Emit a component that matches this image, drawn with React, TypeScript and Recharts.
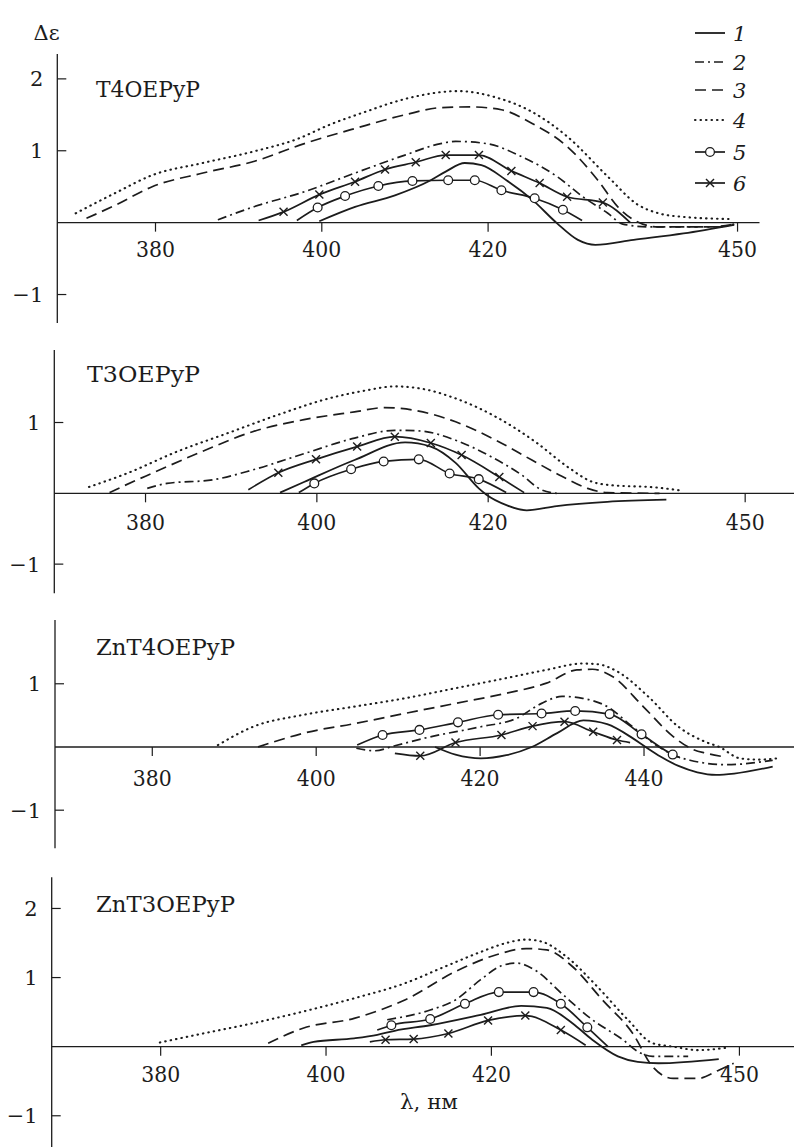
import React from 'react';
import { LineChart, Line, XAxis, YAxis, ReferenceLine, ReferenceDot } from 'recharts';

type Pair = [number, number];

// ---- Panel 1: T4OEPyP ----
const p1s1: Pair[] = [[399.7,0.02],[404.0,0.22],[408.8,0.38],[413.1,0.59],[414.9,0.71],[417.2,0.83],[419.2,0.80],[422.2,0.59],[425.3,0.32],[428.3,-0.01],[430.8,-0.24],[432.9,-0.31],[437.5,-0.24],[443.5,-0.15],[449.6,-0.03]];
const p1s2: Pair[] = [[387.5,0.04],[391.8,0.22],[397.9,0.43],[404.0,0.69],[410.0,0.94],[414.3,1.10],[416.1,1.13],[419.8,1.10],[424.0,0.92],[428.3,0.64],[431.4,0.36],[434.4,0.13],[436.2,-0.02],[439.3,-0.06],[447.8,-0.06],[449.6,-0.02]];
const p1s3: Pair[] = [[371.7,0.06],[375.3,0.25],[379.6,0.50],[385.7,0.69],[391.8,0.85],[397.9,1.10],[404.0,1.31],[410.0,1.50],[414.3,1.60],[417.9,1.61],[421.6,1.57],[425.3,1.38],[429.5,1.06],[433.2,0.59],[435.6,0.22],[437.5,0.04],[440.5,-0.06],[446.6,-0.06],[449.6,-0.02]];
const p1s4: Pair[] = [[370.4,0.13],[375.3,0.42],[379.6,0.66],[385.7,0.83],[391.8,0.99],[397.2,1.17],[400.9,1.36],[405.2,1.54],[410.0,1.72],[416.4,1.83],[421.0,1.74],[425.3,1.54],[429.5,1.20],[434.4,0.64],[438.0,0.25],[440.5,0.13],[443.5,0.08],[449.0,0.05]];
const p1s5: Pair[] = [[397.0,0.03],[399.5,0.21],[402.8,0.37],[406.8,0.51],[410.9,0.58],[415.2,0.59],[418.4,0.59],[421.6,0.45],[425.6,0.34],[429.0,0.18],[431.3,0.03]];
const p1s6: Pair[] = [[392.4,0.03],[395.4,0.15],[399.7,0.39],[404.0,0.57],[407.6,0.74],[411.3,0.84],[414.9,0.94],[418.9,0.94],[422.8,0.72],[426.2,0.55],[429.5,0.36],[433.8,0.28],[437.1,0.0]];

// ---- Panel 2: T3OEPyP ----
const p2s1: Pair[] = [[395.7,0.01],[398.5,0.16],[404.4,0.47],[410.3,0.72],[413.3,0.66],[416.2,0.43],[418.9,0.07],[419.8,-0.02],[422.2,-0.17],[424.5,-0.24],[428.0,-0.18],[433.9,-0.12],[440.8,-0.09]];
const p2s2: Pair[] = [[380.2,0.07],[382.5,0.14],[387.8,0.19],[392.5,0.33],[398.5,0.56],[404.4,0.78],[409.1,0.89],[412.1,0.88],[416.2,0.75],[420.3,0.52],[423.9,0.26],[426.2,0.05],[428.0,0.0]];
const p2s3: Pair[] = [[375.8,0.01],[377.2,0.09],[380.7,0.28],[386.6,0.59],[392.5,0.87],[398.5,1.04],[404.4,1.15],[407.9,1.21],[411.5,1.17],[416.2,1.01],[420.9,0.75],[425.1,0.47],[428.6,0.24],[431.6,0.07],[433.9,0.01],[440.0,0.0]];
const p2s4: Pair[] = [[373.4,0.09],[377.8,0.28],[383.7,0.59],[389.6,0.85],[395.5,1.11],[401.4,1.34],[405.6,1.45],[409.1,1.51],[412.1,1.48],[416.2,1.34],[420.9,1.08],[425.7,0.71],[429.2,0.38],[432.2,0.16],[433.9,0.12],[439.8,0.08],[442.5,0.04]];
const p2s5: Pair[] = [[397.9,0.01],[399.7,0.14],[404.0,0.34],[407.8,0.45],[411.9,0.48],[415.5,0.28],[418.9,0.20],[422.1,0.01]];
const p2s6: Pair[] = [[392.0,0.05],[395.5,0.29],[399.9,0.48],[404.7,0.66],[409.1,0.80],[413.3,0.71],[416.9,0.54],[421.3,0.23],[424.2,0.01]];

// ---- Panel 3: ZnT4OEPyP ----
const p3s1: Pair[] = [[414.5,0.0],[417.0,-0.12],[420.1,-0.18],[423.2,-0.13],[426.3,0.0],[429.4,0.22],[432.6,0.42],[435.5,0.36],[438.6,0.14],[440.2,0.0],[442.0,-0.15],[444.2,-0.30],[446.5,-0.40],[448.8,-0.44],[451.0,-0.42],[455.7,-0.31]];
const p3s2: Pair[] = [[404.9,-0.02],[407.1,-0.06],[409.6,0.02],[413.9,0.16],[420.1,0.32],[424.4,0.45],[427.5,0.69],[430.0,0.80],[432.5,0.77],[435.5,0.64],[438.6,0.32],[441.7,0.01],[444.0,-0.15],[445.6,-0.21],[450.1,-0.28],[455.7,-0.21]];
const p3s3: Pair[] = [[392.9,0.0],[394.8,0.08],[398.5,0.22],[404.7,0.37],[410.8,0.53],[417.0,0.69],[423.2,0.85],[428.1,1.01],[431.8,1.22],[433.7,1.23],[436.2,1.11],[439.9,0.64],[443.6,0.16],[446.0,-0.04],[447.6,-0.10],[449.5,-0.15]];
const p3s4: Pair[] = [[388.0,0.03],[392.3,0.32],[398.5,0.51],[404.7,0.64],[410.8,0.77],[417.0,0.93],[423.2,1.09],[428.1,1.22],[432.5,1.32],[434.3,1.31],[436.8,1.19],[440.5,0.80],[444.2,0.32],[447.5,0.08],[449.2,0.0],[451.7,-0.18],[454.0,-0.20],[456.2,-0.18]];
const p3s5: Pair[] = [[405.0,0.03],[408.1,0.19],[412.6,0.27],[417.3,0.39],[422.2,0.51],[427.5,0.53],[431.6,0.57],[435.8,0.52],[439.7,0.20],[443.5,-0.12],[444.4,-0.17]];
const p3s6: Pair[] = [[409.6,-0.10],[412.7,-0.14],[417.0,0.07],[422.6,0.19],[426.4,0.33],[430.3,0.40],[433.8,0.24],[436.7,0.11],[438.3,0.07]];

// ---- Panel 4: ZnT3OEPyP ----
const p4s1: Pair[] = [[397.0,0.02],[398.5,0.07],[403.4,0.12],[406.2,0.17],[408.3,0.23],[412.6,0.31],[418.7,0.46],[423.6,0.59],[426.7,0.56],[429.8,0.34],[432.2,0.10],[435.3,-0.14],[437.7,-0.22],[440.2,-0.24],[447.5,-0.18]];
const p4s2: Pair[] = [[407.4,0.39],[412.6,0.53],[415.7,0.68],[418.7,0.97],[421.2,1.17],[423.0,1.21],[425.5,1.09],[428.5,0.77],[432.2,0.39],[435.9,0.10],[437.7,-0.07],[439.5,-0.14],[443.8,-0.14]];
const p4s3: Pair[] = [[393.0,0.05],[397.3,0.27],[403.4,0.41],[409.6,0.68],[415.7,1.09],[420.6,1.33],[424.2,1.42],[426.7,1.40],[429.8,1.16],[433.4,0.68],[437.1,0.19],[439.5,-0.29],[442.0,-0.46],[445.0,-0.46],[447.5,-0.34],[449.3,-0.24]];
const p4s4: Pair[] = [[379.9,0.06],[385.1,0.19],[391.2,0.34],[397.3,0.51],[403.4,0.70],[409.6,0.92],[414.4,1.16],[418.7,1.37],[421.8,1.50],[424.2,1.55],[426.1,1.52],[429.1,1.30],[432.8,0.87],[436.5,0.39],[439.5,0.05],[442.0,0.0],[445.0,-0.05],[448.7,-0.01]];
const p4s5: Pair[] = [[406.2,0.24],[407.9,0.31],[412.6,0.40],[416.8,0.62],[420.9,0.79],[425.1,0.79],[428.4,0.62],[431.6,0.28],[434.1,0.0]];
const p4s6: Pair[] = [[405.3,0.07],[407.2,0.10],[410.6,0.11],[414.8,0.19],[419.6,0.38],[424.1,0.45],[428.4,0.24],[431.4,0.02]];

// ---- tick labels / names ----
const xTicksA = [380, 400, 420, 450];
const xTicksB = [380, 400, 420, 440];
const yTicksA = [-1, 1, 2];
const yTicksB = [-1, 1];
const panelNames = ['T4OEPyP', 'T3OEPyP', 'ZnT4OEPyP', 'ZnT3OEPyP'];
const legendLabels = ['1', '2', '3', '4', '5', '6'];
const yAxisTitle = 'Δε';
const xAxisTitle = 'λ, нм';

const INK = '#1c1c1c';
const FONT = "'DejaVu Serif', serif";
const TXT = { fontFamily: FONT };

type Style = { dash?: string; width: number; cap?: 'round' | 'butt'; marker: 'none' | 'circle' | 'cross' };
const seriesStyles: Style[] = [
  { width: 1.8, marker: 'none' },
  { dash: '9 4 2 4', width: 1.7, marker: 'none' },
  { dash: '11 6', width: 1.7, marker: 'none' },
  { dash: '0.5 5', width: 2.1, cap: 'round', marker: 'none' },
  { width: 1.7, marker: 'circle' },
  { width: 1.7, marker: 'cross' },
];
const drawOrder = [3, 2, 1, 0, 5, 4];

type Panel = {
  series: Pair[][];
  top: number;
  h: number;
  margin: { top: number; right: number; bottom: number; left: number };
  yw: number;
  xd: [number, number];
  yd: [number, number];
  xt: number[];
  yt: number[];
  labDy: number;
  name: { x: number; y: number; w: number };
};

const panels: Panel[] = [
  { series: [p1s1, p1s2, p1s3, p1s4, p1s5, p1s6], top: 0, h: 330, margin: { top: 54, right: 34.5, bottom: 7, left: 0 }, yw: 57.3, xd: [368.19, 452.64], yd: [-1.396, 2.346], xt: xTicksA, yt: yTicksA, labDy: 34.5, name: { x: 96, y: 97, w: 104 } },
  { series: [p2s1, p2s2, p2s3, p2s4, p2s5, p2s6], top: 330, h: 270, margin: { top: 20, right: 0, bottom: 6.7, left: 0 }, yw: 54.3, xd: [369.35, 455.7], yd: [-1.412, 2.024], xt: xTicksA, yt: yTicksB, labDy: 36.5, name: { x: 87, y: 382, w: 113 } },
  { series: [p3s1, p3s2, p3s3, p3s4, p3s5, p3s6], top: 600, h: 260, margin: { top: 20, right: 0, bottom: 11.7, left: 0 }, yw: 55, xd: [368.13, 458.3], yd: [-1.603, 2.009], xt: xTicksB, yt: yTicksB, labDy: 39, name: { x: 96, y: 655, w: 139 } },
  { series: [p4s1, p4s2, p4s3, p4s4, p4s5, p4s6], top: 860, h: 287, margin: { top: 17.3, right: 0, bottom: 0, left: 0 }, yw: 51.7, xd: [366.82, 456.6], yd: [-1.452, 2.451], xt: xTicksA, yt: yTicksA, labDy: 35.5, name: { x: 96, y: 912, w: 139 } },
];

const toPts = (arr: Pair[]) => arr.map(([l, d]) => ({ l, d }));

const makeDot = (kind: Style['marker'], len: number) => (props: any) => {
  const { cx, cy, index } = props;
  const key = `dot-${index}`;
  if (cx == null || cy == null || index === 0 || index === len - 1) return <g key={key} />;
  if (kind === 'circle') {
    return <circle key={key} cx={cx} cy={cy} r={4.4} fill="#fff" stroke={INK} strokeWidth={1.3} />;
  }
  return (
    <g key={key} stroke={INK} strokeWidth={1.4}>
      <line x1={cx - 4} y1={cy - 4} x2={cx + 4} y2={cy + 4} />
      <line x1={cx - 4} y1={cy + 4} x2={cx + 4} y2={cy - 4} />
    </g>
  );
};

const YTick = (props: any) => {
  const { x, y, payload } = props;
  const v = payload.value as number;
  const label = v < 0 ? `\u2212${Math.abs(v)}` : `${v}`;
  return (
    <g>
      <line x1={x} y1={y} x2={x + 9} y2={y} stroke={INK} strokeWidth={1.2} />
      <text x={x - 14} y={y} dy="0.36em" textAnchor="end" style={TXT} fontSize={21} fill={INK}>
        {label}
      </text>
    </g>
  );
};

const PanelChart = ({ cfg }: { cfg: Panel }) => (
  <div style={{ position: 'absolute', left: 0, top: cfg.top, width: 794, height: cfg.h }}>
    <LineChart width={794} height={cfg.h} margin={cfg.margin}>
      <XAxis type="number" dataKey="l" domain={cfg.xd} allowDataOverflow hide />
      <YAxis
        type="number"
        domain={cfg.yd}
        allowDataOverflow
        ticks={cfg.yt}
        interval={0}
        width={cfg.yw}
        tickSize={0}
        tickMargin={0}
        tickLine={false}
        axisLine={{ stroke: INK, strokeWidth: 1.3 }}
        tick={(p: any) => <YTick {...p} />}
      />
      <ReferenceLine y={0} stroke={INK} strokeWidth={1.3} ifOverflow="visible" />
      {cfg.xt.map((t) => (
        <ReferenceDot
          key={`xt-${t}`}
          x={t}
          y={0}
          r={1}
          ifOverflow="visible"
          shape={(p: any) => (
            <g>
              <line x1={p.cx} y1={p.cy} x2={p.cx} y2={p.cy + 9} stroke={INK} strokeWidth={1.2} />
              <text x={p.cx} y={p.cy + cfg.labDy} textAnchor="middle" style={TXT} fontSize={22} fill={INK} textLength={39} lengthAdjust="spacingAndGlyphs">
                {t}
              </text>
            </g>
          )}
        />
      ))}
      {drawOrder.map((si) => {
        const st = seriesStyles[si];
        const arr = cfg.series[si];
        return (
          <Line
            key={`s-${si}`}
            data={toPts(arr)}
            dataKey="d"
            type="monotone"
            stroke={INK}
            strokeWidth={st.width}
            strokeDasharray={st.dash}
            strokeLinecap={st.cap ?? 'butt'}
            dot={st.marker === 'none' ? false : makeDot(st.marker, arr.length)}
            activeDot={false}
            isAnimationActive={false}
          />
        );
      })}
    </LineChart>
  </div>
);

const legendY = [33, 62, 90, 120, 152, 183];

const Overlay = () => (
  <svg width={794} height={1147} style={{ position: 'absolute', left: 0, top: 0, pointerEvents: 'none', ...TXT }}>
    <text x={46.5} y={40} textAnchor="middle" style={TXT} fontSize={21} fill={INK}>{yAxisTitle}</text>
    <text x={429} y={1109} textAnchor="middle" style={TXT} fontSize={21} fill={INK} textLength={58} lengthAdjust="spacingAndGlyphs">{xAxisTitle}</text>
    {panels.map((p, i) => (
      <text key={`n-${i}`} x={p.name.x} y={p.name.y} style={TXT} fontSize={23} fill={INK} textLength={p.name.w} lengthAdjust="spacingAndGlyphs">
        {panelNames[i]}
      </text>
    ))}
    {legendLabels.map((lab, i) => {
      const st = seriesStyles[i];
      const y = legendY[i];
      return (
        <g key={`lg-${i}`}>
          <line x1={695} y1={y} x2={725} y2={y} stroke={INK} strokeWidth={st.width} strokeDasharray={st.dash} strokeLinecap={st.cap ?? 'butt'} />
          {st.marker === 'circle' && <circle cx={710} cy={y} r={4.4} fill="#fff" stroke={INK} strokeWidth={1.3} />}
          {st.marker === 'cross' && (
            <g stroke={INK} strokeWidth={1.4}>
              <line x1={706} y1={y - 4} x2={714} y2={y + 4} />
              <line x1={706} y1={y + 4} x2={714} y2={y - 4} />
            </g>
          )}
          <text x={733} y={y + 8} style={{ ...TXT, fontStyle: 'italic' }} fontSize={21} fill={INK}>{lab}</text>
        </g>
      );
    })}
  </svg>
);

export default function App() {
  return (
    <div style={{ position: 'absolute', left: 0, top: 0, width: 794, height: 1147, background: '#fff', overflow: 'hidden', ...TXT }}>
      {panels.map((p, i) => (
        <PanelChart key={`p-${i}`} cfg={p} />
      ))}
      <Overlay />
    </div>
  );
}
